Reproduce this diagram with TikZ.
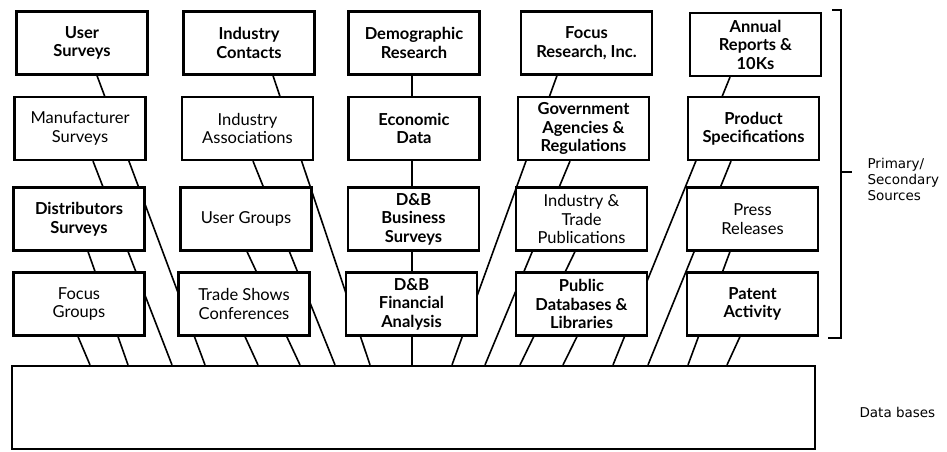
\documentclass[tikz,border=0pt]{standalone}
\usepackage{fontspec}
\setmainfont{Lato}
\newfontfamily\notefont{DejaVu Sans}
\usetikzlibrary{backgrounds}

\tikzset{
  srcbox/.style={draw, line width=2.2pt, fill=white, minimum width=131pt,
    minimum height=63pt, align=center, inner sep=1pt,
    font=\fontsize{16.5}{18.5}\selectfont},
  srcboxbold/.style={srcbox, font=\bfseries\fontsize{16.5}{18.5}\selectfont},
  feed/.style={line width=1.6pt},
  note/.style={anchor=west, align=left, font=\notefont\fontsize{13.5}{16}\selectfont},
}

\begin{document}
\begin{tikzpicture}[x=1pt, y=-1pt]
\useasboundingbox (0,0) rectangle (947,451);
% Row 1
\node[srcboxbold] (us) at (82,43) {User\\Surveys};
\node[srcboxbold] (ic) at (249,43) {Industry\\Contacts};
\node[srcboxbold] (dr) at (414,43) {Demographic\\Research};
\node[srcboxbold] (fr) at (586.5,43) {Focus\\Research, Inc.};
\node[srcboxbold] (ar) at (755.5,44.5) {Annual\\Reports \&\\10Ks};
% Row 2
\node[srcbox] (ms) at (80,128.5) {Manufacturer\\Surveys};
\node[srcbox] (ia) at (247.5,128.5) {Industry\\Associations};
\node[srcboxbold] (ed) at (414,128.5) {Economic\\Data};
\node[srcboxbold] (ga) at (583.5,128.5) {Government\\Agencies \&\\Regulations};
\node[srcboxbold] (ps) at (753.5,128.5) {Product\\Specifications};
% Row 3
\node[srcboxbold] (ds) at (79,219) {Distributors\\Surveys};
\node[srcbox] (ug) at (246,219) {User Groups};
\node[srcboxbold] (bs) at (413.5,219) {D\&B\\Business\\Surveys};
\node[srcbox] (it) at (581.5,219) {Industry \&\\Trade\\Publications};
\node[srcbox] (pr) at (752.5,219) {Press\\Releases};
% Row 4
\node[srcbox] (fg) at (79,304) {Focus\\Groups};
\node[srcbox] (ts) at (244,304) {Trade Shows\\Conferences};
\node[srcboxbold] (fa) at (411.5,304) {D\&B\\Financial\\Analysis};
\node[srcboxbold] (pd) at (581.5,304) {Public\\Databases \&\\Libraries};
\node[srcboxbold] (pa) at (752.5,304) {Patent\\Activity};
% Data bases
\node[draw, line width=2.2pt, minimum width=803pt, minimum height=83pt] (db) at (413.5,407.5) {};
\node[note] (dblabel) at (856,412) {Data bases};
% Bracket round the sources
\coordinate (brtop) at (832,10);
\coordinate (brbot) at (828,338);
\coordinate (brmid) at (852,172);
\draw[line width=2pt] (brtop) -- (841,10) -- (841,338) -- (brbot);
\draw[line width=2pt] (841,172) -- (brmid);
\node[note] (srclabel) at (864,179) {Primary/\\Secondary\\Sources};
% Feeds to the data bases, behind the boxes
\begin{scope}[on background layer]
\draw[feed] ([xshift=15pt]us.south) -- ([xshift=-208.5pt]db.north);
\draw[feed] ([xshift=13pt]ms.south) -- ([xshift=-241.5pt]db.north);
\draw[feed] ([xshift=9pt]ds.south) -- ([xshift=-285.5pt]db.north);
\draw[feed] ([xshift=-1pt]fg.south) -- ([xshift=-323.5pt]db.north);
\draw[feed] ([xshift=24pt]ic.south) -- ([xshift=-43.5pt]db.north);
\draw[feed] ([xshift=5.5pt]ia.south) -- ([xshift=-78.5pt]db.north);
\draw[feed] ([xshift=1pt]ug.south) -- ([xshift=-113.5pt]db.north);
\draw[feed] ([xshift=1pt]ts.south) -- ([xshift=-155.5pt]db.north);
\draw[feed] ([xshift=-2pt]dr.south) -- ([xshift=-2pt]dr.south |- db.north);
\draw[feed] ([xshift=-29.5pt]fr.south) -- ([xshift=38.5pt]db.north);
\draw[feed] ([xshift=-13.5pt]ga.south) -- ([xshift=71.5pt]db.north);
\draw[feed] ([xshift=-6.5pt]it.south) -- ([xshift=106.5pt]db.north);
\draw[feed] ([xshift=-4.5pt]pd.south) -- ([xshift=149.5pt]db.north);
\draw[feed] ([xshift=-25.5pt]ar.south) -- ([xshift=199.5pt]db.north);
\draw[feed] ([xshift=-22.5pt]ps.south) -- ([xshift=234.5pt]db.north);
\draw[feed] ([xshift=-22.5pt]pr.south) -- ([xshift=274.5pt]db.north);
\draw[feed] ([xshift=-12.5pt]pa.south) -- ([xshift=313.5pt]db.north);
\end{scope}
\end{tikzpicture}
\end{document}
